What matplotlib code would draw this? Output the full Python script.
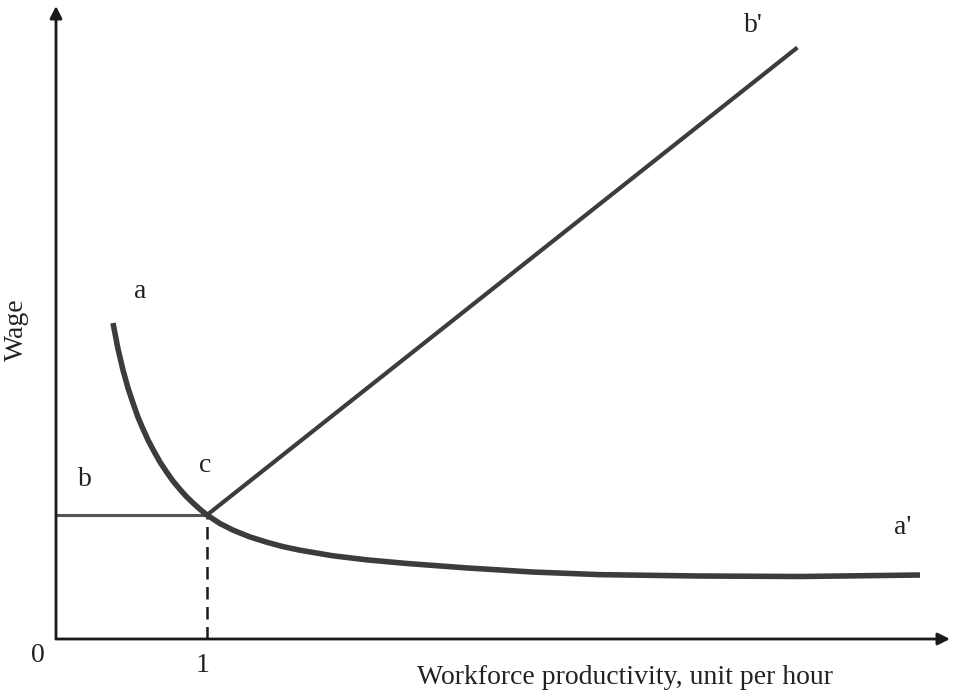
import matplotlib.pyplot as plt
import numpy as np

plt.rcParams['font.family'] = ['Liberation Serif', 'DejaVu Serif']

# curve a - a' (productivity, wage) in units where point c = (1, 1)
curve_x = [0.3775, 0.4106, 0.4437, 0.4768, 0.5099, 0.5430, 0.5762, 0.6093, 0.6424, 0.6887,
           0.7351, 0.7748, 0.8212, 0.8609, 0.9073, 0.9536, 1.0000, 1.0861, 1.1722, 1.2848,
           1.3974, 1.5033, 1.6159, 1.8344, 2.0596, 2.3245, 2.7219, 3.1589, 3.6026, 4.2649,
           4.9272, 5.7219]
curve_y = [2.548, 2.339, 2.169, 2.024, 1.903, 1.788, 1.694, 1.605, 1.528, 1.427,
           1.342, 1.274, 1.206, 1.152, 1.097, 1.046, 1.000, 0.931, 0.878, 0.823,
           0.780, 0.745, 0.716, 0.671, 0.638, 0.609, 0.573, 0.540, 0.519, 0.508,
           0.504, 0.516]

# line c - b'
line_x = [1.0, 4.91]
line_y = [1.0, 4.77]

# point c
c_x, c_y = 1.0, 1.0

fig = plt.figure(figsize=(9.54, 6.99), dpi=100)
ax = fig.add_axes([0, 0, 1, 1])
ox, oy = 56, 639
ux, uy = 151, 124
ax.set_xlim((0 - ox) / ux, (954 - ox) / ux)
ax.set_ylim((oy - 699) / uy, (oy - 0) / uy)
ax.axis('off')

# axes with arrows
ax.annotate('', xy=((950 - ox) / ux, 0), xytext=(0, 0),
            arrowprops=dict(arrowstyle='-|>', lw=2, color='#1a1a1a', mutation_scale=18, shrinkA=0, shrinkB=0))
ax.annotate('', xy=(0, (oy - 6) / uy), xytext=(0, 0),
            arrowprops=dict(arrowstyle='-|>', lw=2, color='#1a1a1a', mutation_scale=18, shrinkA=0, shrinkB=0))

# horizontal b line and dashed vertical
ax.plot([0, c_x], [c_y, c_y], color='#555555', lw=2.2, solid_capstyle='butt')
ax.plot([c_x, c_x], [0, c_y], color='#1a1a1a', lw=1.8, linestyle=(0, (5, 3)))

# curves
ax.plot(curve_x, curve_y, color='#3c3c3c', lw=4, solid_capstyle='butt', solid_joinstyle='round')
ax.plot(line_x, line_y, color='#3c3c3c', lw=3, solid_capstyle='butt')

def px(xp, yp):
    return (xp - ox) / ux, (oy - yp) / uy

fs = 20
for t, (xp, yp) in [('a', (140, 292)), ('b', (85, 480)), ('c', (205, 466)),
                    ("b'", (753, 25)), ("a'", (903, 528)), ('0', (38, 655)), ('1', (203, 665))]:
    ax.text(*px(xp, yp), t, fontsize=fs, ha='center', va='center', color='#222222')

ax.text(*px(16, 330), 'Wage', fontsize=fs, rotation=90, ha='center', va='center', color='#222222')
ax.text(*px(625, 677), 'Workforce productivity, unit per hour', fontsize=fs, ha='center', va='center', color='#222222')

fig.savefig('out.png', dpi=100, facecolor='white')
